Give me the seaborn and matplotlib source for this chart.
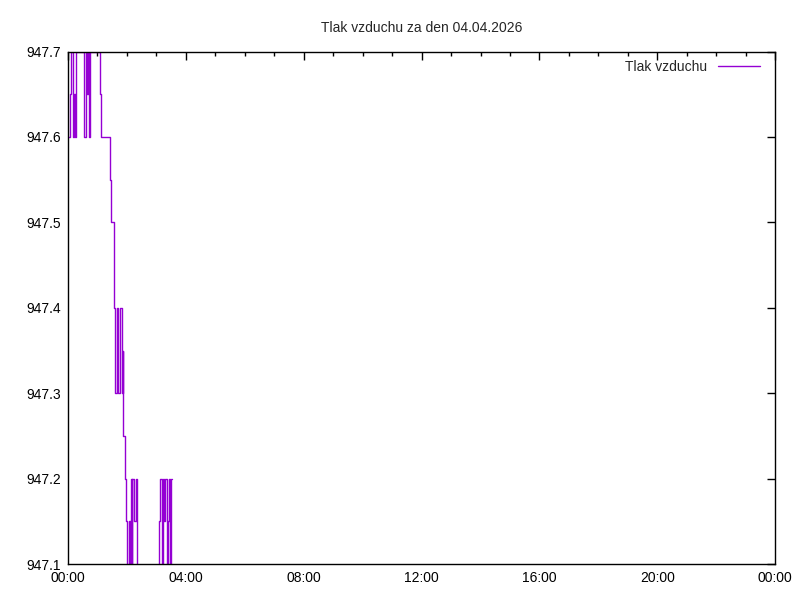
import matplotlib
matplotlib.use("Agg")
import matplotlib.pyplot as plt
import seaborn as sns
import pandas as pd
from matplotlib.ticker import MultipleLocator

# time of each reading (minutes after midnight) and pressure (hPa)
minutes = [0, 4, 7, 10, 13, 15, 17, 33, 36, 39, 41, 43, 44, 65, 67, 86, 88, 94,
           96, 100, 102, 105, 106, 110, 111, 113, 116, 118, 120, 124, 126, 128,
           130, 131, 135, 138, 140, 186, 188, 191, 193, 196, 198, 201, 203, 205,
           208, 210, 211]
pressure = [947.60, 947.65, 947.70, 947.60, 947.65, 947.60, 947.70, 947.60, 947.70,
            947.65, 947.70, 947.60, 947.70, 947.65, 947.60, 947.55, 947.50, 947.40,
            947.30, 947.40, 947.30, 947.35, 947.40, 947.30, 947.35, 947.25, 947.20,
            947.15, 947.05, 947.15, 947.05, 947.20, 947.10, 947.20, 947.15, 947.20,
            947.05, 947.15, 947.20, 947.10, 947.20, 947.15, 947.20, 947.05, 947.15,
            947.20, 947.10, 947.20, 947.20]
x_ticks = [0, 4, 8, 12, 16, 20, 24]
x_labels = ["00:00", "04:00", "08:00", "12:00", "16:00", "20:00", "00:00"]
y_ticks = [947.1, 947.2, 947.3, 947.4, 947.5, 947.6, 947.7]
title = "Tlak vzduchu za den 04.04.2026"
series_name = "Tlak vzduchu"

df = pd.DataFrame({"hour": [m / 60 for m in minutes], "p": pressure})

sns.set_style("white")
plt.rcParams["font.family"] = ["Liberation Sans", "DejaVu Sans"]

fig = plt.figure(figsize=(8, 6), dpi=100)
ax = fig.add_axes([0.085, 0.06, 0.884, 0.854])

sns.lineplot(data=df, x="hour", y="p", ax=ax, color="#9400D3", linewidth=1,
             drawstyle="steps-post", label=series_name, sort=False)

ax.set_xlim(0, 24)
ax.set_ylim(947.1, 947.7)
ax.set_xticks(x_ticks)
ax.set_xticklabels(x_labels)
ax.xaxis.set_minor_locator(MultipleLocator(1))
ax.set_yticks(y_ticks)
ax.set_yticklabels([f"{v:.1f}" for v in y_ticks])
ax.tick_params(axis="both", which="both", direction="in", top=True, right=True,
               labelsize=10, colors="black", pad=5)
ax.tick_params(axis="both", which="major", length=6, width=1)
ax.tick_params(axis="x", which="minor", length=3, width=1)
for s in ax.spines.values():
    s.set_color("black")
    s.set_linewidth(1)
ax.set_xlabel("")
ax.set_ylabel("")
ax.set_title(title, fontsize=10, pad=14)

leg = ax.legend(loc="upper right", bbox_to_anchor=(1.0, 1.014), frameon=False,
                fontsize=10, handlelength=3.0, handletextpad=0.8,
                markerfirst=False, borderaxespad=0.7)

fig.savefig("out.png", dpi=100)
